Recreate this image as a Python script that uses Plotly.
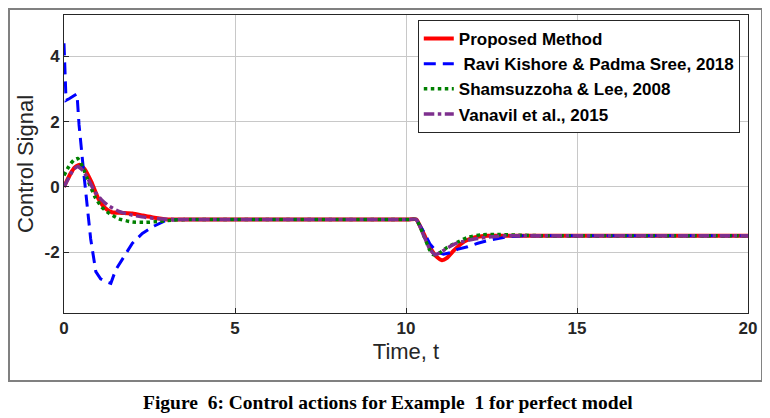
import plotly.graph_objects as go

# Proposed Method
t_prop = [0, 0.1, 0.2, 0.3, 0.45, 0.6, 0.8, 1.0, 1.2, 1.4, 1.7, 2.0, 2.3, 2.6, 3.0, 3.5, 4.5, 6, 8, 9.5, 10.1,
          10.3, 10.5, 10.7, 10.9, 11.05, 11.2, 11.4, 11.7, 12.0, 12.4, 13.0, 14.0, 16, 18, 20.0]
u_prop = [0, 0.22, 0.42, 0.58, 0.68, 0.55, 0.15, -0.35, -0.65, -0.78, -0.8, -0.82, -0.88, -0.94, -1.0, -1.0, -1.0,
          -1.0, -1.0, -1.0, -1.0,
          -1.0, -1.4, -1.85, -2.15, -2.25, -2.18, -1.95, -1.68, -1.55, -1.5, -1.5, -1.5, -1.5, -1.5, -1.5]

# Ravi Kishore & Padma Sree, 2018
t_ravi = [0, 0.06, 0.15, 0.25, 0.38, 0.44, 0.5, 0.58, 0.68, 0.78, 0.93, 1.07, 1.25, 1.37, 1.51, 1.8,
          2.0, 2.29, 2.64, 2.98, 3.3, 4.0, 10.3, 10.5, 10.7, 10.9, 11.1, 11.3, 11.5, 11.8, 12.1,
          12.5, 13.0, 13.5, 14.0, 20.0]
u_ravi = [4.4, 2.65, 2.7, 2.76, 2.85, 1.9, 1.2, 0.4, -0.6, -1.6, -2.6, -2.82, -2.92, -2.96, -2.55, -2.04,
          -1.73, -1.43, -1.2, -1.03, -1.0, -1.0, -1.0, -1.35, -1.75, -2.0, -2.07, -2.02, -1.92, -1.84, -1.73,
          -1.62, -1.53, -1.5, -1.5, -1.5]

# Shamsuzzoha & Lee, 2008
t_sham = [0, 0.1, 0.2, 0.3, 0.4, 0.55, 0.7, 0.9, 1.1, 1.3, 1.6, 2.0, 2.4, 2.8, 3.2, 3.7, 4.5, 6, 8, 9.5, 10.1,
          10.3, 10.5, 10.7, 10.8, 10.95, 11.2, 11.5, 11.8, 12.2, 12.6, 13.2, 14.0, 16, 18, 20.0]
u_sham = [0.35, 0.55, 0.72, 0.83, 0.87, 0.6, 0.2, -0.3, -0.62, -0.8, -0.98, -1.08, -1.09, -1.06, -1.02, -1.0, -1.0,
          -1.0, -1.0, -1.0, -1.0,
          -1.0, -1.45, -1.95, -2.08, -2.05, -1.86, -1.7, -1.55, -1.47, -1.46, -1.48, -1.5, -1.5, -1.5, -1.5]

# Vanavil et al., 2015
t_vana = [0, 0.1, 0.2, 0.3, 0.4, 0.55, 0.7, 0.9, 1.1, 1.3, 1.6, 2.0, 2.4, 2.8, 3.2, 3.7, 4.5, 6, 8, 9.5, 10.1,
          10.3, 10.5, 10.7, 10.85, 11.0, 11.2, 11.5, 12.0, 12.5, 13.0, 13.5, 14.0, 16, 18, 20.0]
u_vana = [0, 0.2, 0.4, 0.55, 0.62, 0.5, 0.25, -0.15, -0.4, -0.58, -0.75, -0.87, -0.94, -0.98, -1.0, -1.0, -1.0,
          -1.0, -1.0, -1.0, -1.0,
          -1.0, -1.45, -1.92, -2.08, -2.02, -1.88, -1.72, -1.6, -1.53, -1.5, -1.5, -1.5, -1.5, -1.5, -1.5]

x_ticks = [0, 5, 10, 15, 20]
y_ticks = [-2, 0, 2, 4]

fig = go.Figure()
fig.add_trace(go.Scatter(x=t_prop, y=u_prop, mode='lines', name='Proposed Method',
                         line=dict(color='#FF0000', width=4, shape='spline', smoothing=0.5)))
fig.add_trace(go.Scatter(x=t_ravi, y=u_ravi, mode='lines', name=' Ravi Kishore & Padma Sree, 2018',
                         line=dict(color='#0000FF', width=3, dash='12px,7px')))
fig.add_trace(go.Scatter(x=t_sham, y=u_sham, mode='lines', name='Shamsuzzoha & Lee, 2008',
                         line=dict(color='#008000', width=3.5, dash='dot', shape='spline', smoothing=0.5)))
fig.add_trace(go.Scatter(x=t_vana, y=u_vana, mode='lines', name='Vanavil et al., 2015',
                         line=dict(color='#7E2F8E', width=3.5, dash='dashdot', shape='spline', smoothing=0.5)))

tick_font = dict(family='Arial, Liberation Sans', size=17, color='#262626', weight='bold')
title_font = dict(family='Arial, Liberation Sans', size=22, color='#262626')

fig.update_xaxes(range=[0, 20], tickvals=x_ticks, ticktext=[str(v) for v in x_ticks],
                 showgrid=True, gridcolor='#c8c8c8', gridwidth=1, zeroline=False,
                 showline=True, linecolor='#262626', linewidth=1, mirror=True,
                 ticks='inside', ticklen=5, tickcolor='#262626', automargin=False,
                 tickfont=tick_font, title=dict(text='Time, t', font=title_font, standoff=6))
fig.update_yaxes(range=[-3.87, 5.27], tickvals=y_ticks, ticktext=[str(v) for v in y_ticks],
                 showgrid=True, gridcolor='#c8c8c8', gridwidth=1, zeroline=False,
                 showline=True, linecolor='#262626', linewidth=1, mirror=True,
                 ticks='inside', ticklen=5, tickcolor='#262626', automargin=False,
                 tickfont=tick_font, title=dict(text='Control Signal', font=title_font, standoff=4))

fig.update_layout(
    width=762, height=410,
    margin=dict(l=56, r=22, t=7, b=105, autoexpand=False),
    paper_bgcolor='white', plot_bgcolor='white',
    showlegend=True,
    legend=dict(x=0.988, y=0.983, xanchor='right', yanchor='top',
                bgcolor='white', bordercolor='#262626', borderwidth=1,
                font=dict(family='Arial, Liberation Sans', size=17, color='black', weight='bold'),
                tracegroupgap=0, itemwidth=30),
    shapes=[dict(type='rect', xref='paper', yref='paper', x0=-0.0804, x1=1.0205, y0=-0.228, y1=1.0201,
                 line=dict(color='#808080', width=2), fillcolor='rgba(0,0,0,0)', layer='below')],
    annotations=[dict(text='<b>Figure  6: Control actions for Example  1 for perfect model</b>',
                      xref='paper', yref='paper', x=0.474, y=-0.299, xanchor='center', yanchor='middle',
                      showarrow=False,
                      font=dict(family='Liberation Serif, Times New Roman', size=19.5, color='black'))],
)

fig.write_html("out.html")
